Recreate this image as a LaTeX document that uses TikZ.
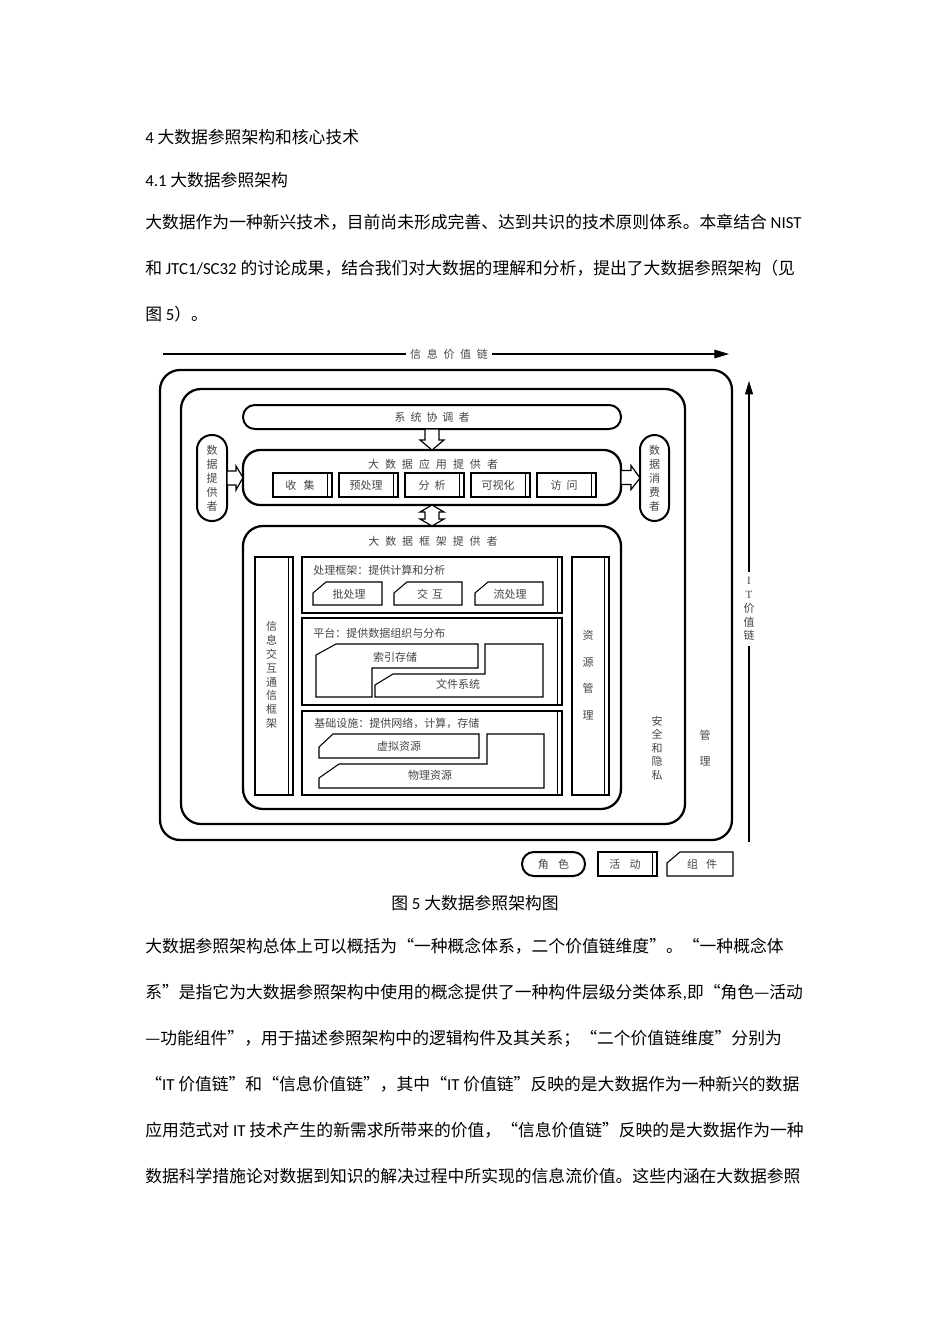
\documentclass[tikz,border=0pt]{standalone}
\usepackage{fontspec}
\setmainfont{Noto Sans CJK SC}
\newfontfamily\lt{Carlito}
\newfontfamily\sr{Liberation Serif}
\usetikzlibrary{arrows.meta,calc}
\XeTeXlinebreaklocale "zh"
\XeTeXlinebreakskip=0pt plus 1pt minus 0.2pt
\definecolor{lab}{RGB}{70,70,70}
\newcommand\gp[1]{\hspace*{#1pt}}
\newcommand\Bx[6]{\node[#6, minimum width={(#4-#2)*0.75pt}, minimum height={(#5-#3)*0.75pt}, inner sep=0pt, outer sep=0pt] (#1) at ({(#2+#4)/2},{(#3+#5)/2}) {};}
\newcommand\Dbl[1]{\draw[line width=0.8pt] ($(#1.north east)+(-4.5,0)$) -- ($(#1.south east)+(-4.5,0)$);\draw[line width=1.6pt] (#1.north east) -- (#1.south east);}
\newcommand\Comp[5]{\draw[comp] (#2,{#3+11}) -- ({#2+13},#3) -- (#4,#3) -- (#4,#5) -- (#2,#5) -- cycle;}
\begin{document}
\begin{tikzpicture}[x=0.75pt,y=-0.75pt,
  bigbox/.style={draw, line width=1.7pt, rounded corners=15pt},
  pillbox/.style={draw, line width=1.5pt, rounded corners=#1},
  actbox/.style={draw, line width=0.9pt},
  comp/.style={draw, line width=0.8pt},
  lbl/.style={font=\fontsize{8.25pt}{10pt}\selectfont, text=lab, inner sep=0pt},
  body/.style={font=\fontsize{12.6pt}{15pt}\selectfont, inner sep=0pt, anchor=base west},
  jline/.style={body, text width=495pt, align=justify},
  blk/.style={draw, line width=0.9pt, fill=white, line join=miter},
  axis/.style={line width=0.8pt},
]
\fill[white] (0,0) rectangle (950,1344);
\useasboundingbox (0,0) rectangle (950,1344);

% ---------- body text above ----------
\node[body] (t1) at (145,143.4) {{\lt 4} 大数据参照架构和核心技术};
\node[body] (t2) at (145,186.4) {{\lt 4.1} 大数据参照架构};
\node[jline] (t3) at (145,228.4) {\parfillskip=0pt\relax 大数据作为一种新兴技术，目前尚未形成完善、达到共识的技术原则体系。本章结合{\lt\ NIST}};
\node[jline] (t4) at (145,274.4) {\parfillskip=0pt\relax 和{\lt\ JTC1/SC32\ }的讨论成果，结合我们对大数据的理解和分析，提出了大数据参照架构（见};
\node[body] (t5) at (145,320.4) {图{\lt\ 5}）。};

% ---------- value chain arrows ----------
\coordinate (ivL) at (163,354);
\coordinate (ivR) at (729,354);
\node[lbl, inner xsep=3pt] (ivc) at (449,354) {信\gp{4.3}息\gp{4.3}价\gp{4.3}值\gp{4.3}链};
\draw[axis] (ivL) -- (ivc.west);
\draw[axis, -{Triangle[length=11pt,width=6.5pt]}] (ivc.east) -- (ivR);

\coordinate (itB) at (749,842);
\coordinate (itT) at (749,381);
\node[lbl, align=center, font=\fontsize{8.25pt}{10.4pt}\selectfont, inner ysep=4pt] (itv) at (749,609) {{\sr I}\\{\sr T}\\价\\值\\链};
\draw[axis] (itB) -- (itv.south);
\draw[axis, -{Triangle[length=10pt,width=6pt]}] (itv.north) -- (itT);

% ---------- big boxes ----------
\Bx{outer}{160}{370}{732}{840}{bigbox}
\Bx{inner}{181}{389}{685}{824}{bigbox}
\Bx{sc}{243}{405}{621}{429}{pillbox=8.9pt}
\Bx{app}{243}{450}{621}{505}{bigbox, rounded corners=13pt}
\Bx{prov}{197}{435}{227}{521}{pillbox=11pt}
\Bx{cons}{640}{435}{669}{521}{pillbox=11pt}
\Bx{fw}{243}{526}{621}{809}{bigbox}

\node[lbl] (sct) at (sc.center) {系\gp{3.75}统\gp{3.75}协\gp{3.75}调\gp{3.75}者};
\node[lbl] (appt) at (433,464) {大\gp{4.5}数\gp{4.5}据\gp{4.5}应\gp{4.5}用\gp{4.5}提\gp{4.5}供\gp{4.5}者};
\node[lbl] (fwt) at (433,541) {大\gp{4.4}数\gp{4.4}据\gp{4.4}框\gp{4.4}架\gp{4.4}提\gp{4.4}供\gp{4.4}者};
\node[lbl, align=center, font=\fontsize{8.25pt}{10.5pt}\selectfont] (provt) at (prov.center) {数\\据\\提\\供\\者};
\node[lbl, align=center, font=\fontsize{8.25pt}{10.5pt}\selectfont] (const) at (cons.center) {数\\据\\消\\费\\者};

% ---------- block arrows ----------
\draw[blk] ($(sc.south)+(-7,0)$) -- ($(sc.south)+(7,0)$) -- ($(sc.south)+(7,11)$) -- ($(sc.south)+(12,11)$) -- (app.north) -- ($(sc.south)+(-12,11)$) -- ($(sc.south)+(-7,11)$) -- cycle;
\draw[blk] (app.south) -- ($(app.south)+(12,7)$) -- ($(app.south)+(7,7)$) -- ($(app.south)+(7,14)$) -- ($(app.south)+(12,14)$) -- (fw.north) -- ($(app.south)+(-12,14)$) -- ($(app.south)+(-7,14)$) -- ($(app.south)+(-7,7)$) -- ($(app.south)+(-12,7)$) -- cycle;
\draw[blk] ($(prov.east)+(0,-7)$) -- ($(prov.east)+(9,-7)$) -- ($(prov.east)+(9,-12)$) -- (app.west) -- ($(prov.east)+(9,12)$) -- ($(prov.east)+(9,7)$) -- ($(prov.east)+(0,7)$) -- cycle;
\draw[blk] ($(app.east)+(0,-7)$) -- ($(app.east)+(10,-7)$) -- ($(app.east)+(10,-12)$) -- (cons.west) -- ($(app.east)+(10,12)$) -- ($(app.east)+(10,7)$) -- ($(app.east)+(0,7)$) -- cycle;

% ---------- activities of the application provider ----------
\Bx{a1}{273}{473}{332}{497}{actbox}\Dbl{a1}
\Bx{a2}{339}{473}{398}{497}{actbox}\Dbl{a2}
\Bx{a3}{405}{473}{464}{497}{actbox}\Dbl{a3}
\Bx{a4}{471}{473}{530}{497}{actbox}\Dbl{a4}
\Bx{a5}{537}{473}{596}{497}{actbox}\Dbl{a5}
\node[lbl] (a1t) at ($(a1.center)+(-2.5,0)$) {收\gp{5.5}集};
\node[lbl] (a2t) at ($(a2.center)+(-2.5,0)$) {预处理};
\node[lbl] (a3t) at ($(a3.center)+(-2.5,0)$) {分\gp{3.75}析};
\node[lbl] (a4t) at ($(a4.center)+(-2.5,0)$) {可视化};
\node[lbl] (a5t) at ($(a5.center)+(-2.5,0)$) {访\gp{3.75}问};

% ---------- framework provider ----------
\Bx{comm}{255}{557}{293}{795}{actbox}\Dbl{comm}
\Bx{proc}{302}{557}{562}{613}{actbox}\Dbl{proc}
\Bx{plat}{302}{618}{562}{705}{actbox}\Dbl{plat}
\Bx{infra}{302}{711}{562}{795}{actbox}\Dbl{infra}
\Bx{res}{572}{557}{609}{795}{actbox}\Dbl{res}

\node[lbl, align=center, font=\fontsize{8.25pt}{10.35pt}\selectfont] (commt) at (271.5,675) {信\\息\\交\\互\\通\\信\\框\\架};
\node[lbl, align=center, font=\fontsize{8.25pt}{20pt}\selectfont] (rest) at (588,675) {资\\源\\管\\理};

\node[lbl, anchor=west] (proct) at (313,570) {处理框架：提供计算和分析};
\node[lbl, anchor=west] (platt) at (313,633) {平台：提供数据组织与分布};
\node[lbl, anchor=west] (infrat) at (314,723) {基础设施：提供网络，计算，存储};

\Comp{c1}{313}{582}{382}{605}
\Comp{c2}{394}{582}{462}{605}
\Comp{c3}{475}{582}{543}{605}
\node[lbl] (c1t) at (349,594) {批处理};
\node[lbl] (c2t) at (430,594) {交\gp{3}互};
\node[lbl] (c3t) at (510,594) {流处理};

\draw[comp] (316,655) -- (336,644) -- (478,644) -- (478,668) -- (372,668) -- (372,697) -- (316,697) -- cycle;
\node[lbl] (idx) at (395,657) {索引存储};
\draw[comp] (375,685) -- (393,674) -- (485,674) -- (485,644) -- (543,644) -- (543,697) -- (375,697) -- cycle;
\node[lbl] (fs) at (458,684) {文件系统};

\draw[comp] (319,747) -- (333,734) -- (479,734) -- (479,758) -- (319,758) -- cycle;
\node[lbl] (vr) at (399,746.5) {虚拟资源};
\draw[comp] (319,778) -- (339,764) -- (487,764) -- (487,734) -- (544,734) -- (544,788) -- (319,788) -- cycle;
\node[lbl] (pr) at (430,775) {物理资源};

% ---------- security / management ----------
\node[lbl, align=center, font=\fontsize{8.25pt}{10.2pt}\selectfont] (sec) at (657,748) {安\\全\\和\\隐\\私};
\node[lbl, align=center, font=\fontsize{8.25pt}{20pt}\selectfont] (mgmt) at (705,748) {管\\理};

% ---------- legend ----------
\Bx{lg1}{522}{852}{585}{876}{pillbox=8.9pt}
\Bx{lg2}{598}{852}{657}{876}{actbox}\Dbl{lg2}
\Comp{lg3}{667}{852}{733}{876}
\node[lbl] (lg1t) at (lg1.center) {角\gp{7}色};
\node[lbl] (lg2t) at ($(lg2.center)+(-2.5,0)$) {活\gp{7}动};
\node[lbl] (lg3t) at (702,864) {组\gp{6}件};

% ---------- caption and body text below ----------
\node[body, anchor=base] (cap) at (475,909.4) {图{\lt\ 5\ }大数据参照架构图};
\node[jline] (t6) at (145,952.4) {\parfillskip=0pt\relax 大数据参照架构总体上可以概括为“一种概念体系，二个价值链维度”。“一种概念体};
\node[jline] (t7) at (145,998.4) {\parfillskip=0pt\relax 系”是指它为大数据参照架构中使用的概念提供了一种构件层级分类体系{\lt ,}即“角色—活动};
\node[jline] (t8) at (145,1044.4) {\parfillskip=0pt\relax —功能组件”，用于描述参照架构中的逻辑构件及其关系；“二个价值链维度”分别为};
\node[jline] (t9) at (145,1090.4) {\parfillskip=0pt\relax “{\lt IT\ }价值链”和“信息价值链”，其中“{\lt IT\ }价值链”反映的是大数据作为一种新兴的数据};
\node[jline] (t10) at (145,1136.4) {\parfillskip=0pt\relax 应用范式对{\lt\ IT\ }技术产生的新需求所带来的价值，“信息价值链”反映的是大数据作为一种};
\node[jline] (t11) at (145,1182.4) {\parfillskip=0pt\relax 数据科学措施论对数据到知识的解决过程中所实现的信息流价值。这些内涵在大数据参照};
\end{tikzpicture}
\end{document}
